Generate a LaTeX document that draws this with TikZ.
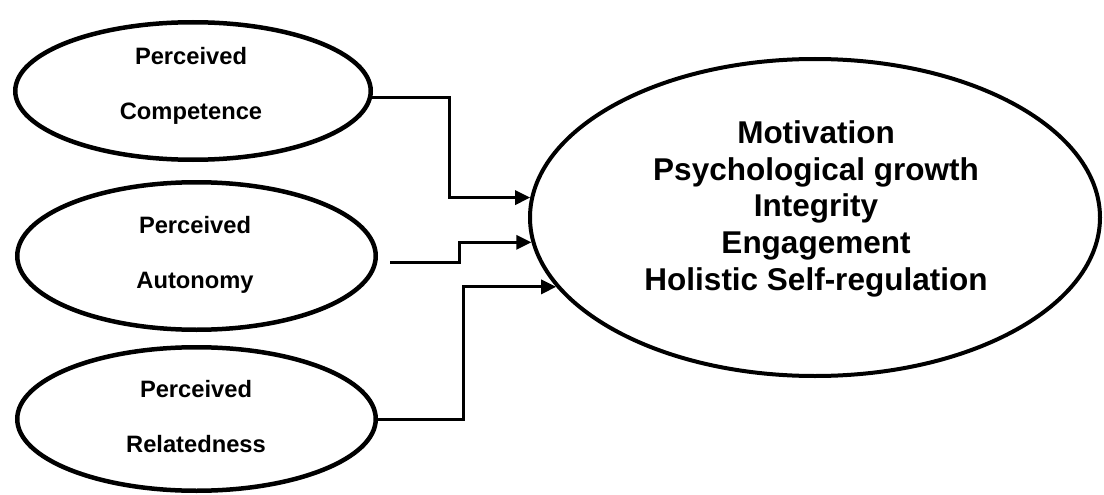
\documentclass[tikz,border=0pt]{standalone}
\usepackage{fontspec}
\setmainfont{Liberation Sans}
\usetikzlibrary{shapes.geometric,arrows.meta}

\tikzset{
  ell/.style={draw=black, line width=4.5pt, ellipse, inner sep=0pt},
  bigell/.style={draw=black, line width=4pt, ellipse, inner sep=0pt},
  conn/.style={draw=black, line width=3pt,
    -{Triangle[length=15pt,width=14pt]}},
  small/.style={inner sep=0pt, anchor=base,
    font=\fontsize{23.7}{28}\selectfont\bfseries},
  big/.style={inner sep=0pt, align=center,
    font=\fontsize{31.5}{36.7}\selectfont\bfseries}
}

\begin{document}
\begin{tikzpicture}[x=1pt,y=-1pt]
  \useasboundingbox (0,0) rectangle (1104,495);

  % three antecedent constructs
  \node[ell, minimum width=355.5pt, minimum height=137.5pt] (e1) at (193,91) {};
  \node[ell, minimum width=358.5pt, minimum height=147.5pt] (e2) at (196.5,256) {};
  \node[ell, minimum width=358.5pt, minimum height=143.5pt] (e3) at (196.5,419) {};

  \node[small] (l1a) at (191,65)  {Perceived};
  \node[small] (l1b) at (191,120) {Competence};
  \node[small] (l2a) at (195,233) {Perceived};
  \node[small] (l2b) at (195,288) {Autonomy};
  \node[small] (l3a) at (196,397) {Perceived};
  \node[small] (l3b) at (196,452) {Relatedness};

  % outcome construct
  \node[bigell, minimum width=570pt, minimum height=317pt] (out) at (815,217.5) {};
  \node[big, anchor=north] (outtxt) at (816,120.5)
    {Motivation\\Psychological growth\\Integrity\\Engagement\\Holistic Self-regulation};

  % elbow positions of the connectors
  \coordinate (k1) at (449,0);
  \coordinate (k2) at (459,0);
  \coordinate (k3) at (463,0);
  \coordinate (s2) at (390,262);

  \draw[conn] (e1.-2.6) -- (e1.-2.6 -| k1) -- (k1 |- out.176.1) -- (out.176.1);
  \draw[conn] (s2) -- (s2 -| k2) -- (k2 |- out.185.3) -- (out.185.3);
  \draw[conn] (e3.east) -- (e3.east -| k3) -- (k3 |- out.195.5) -- (out.195.5);
\end{tikzpicture}
\end{document}
